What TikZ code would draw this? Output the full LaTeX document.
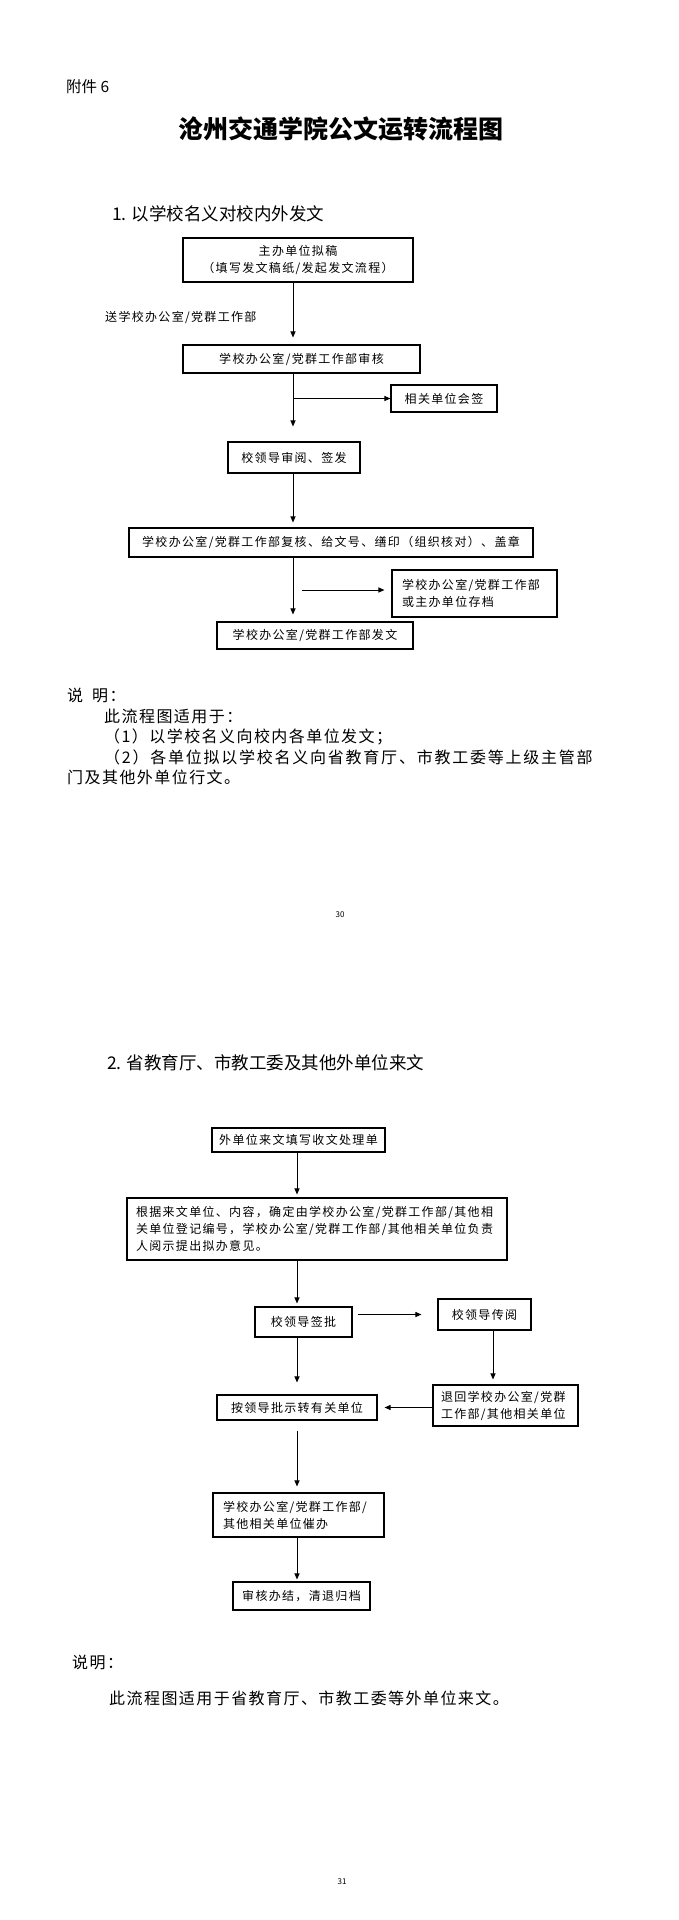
\documentclass[tikz,border=0pt]{standalone}
\usepackage{fontspec}
\setmainfont{Noto Sans CJK SC}
\newfontfamily\boxfnt[LetterSpace=11]{Noto Sans CJK SC}
\newfontfamily\txtfnt[LetterSpace=9]{Noto Sans CJK SC}
\usetikzlibrary{arrows.meta,calc}
\tikzset{
  bx/.style={draw, line width=1.1pt, inner sep=0pt, font=\boxfnt\fontsize{12}{17}\selectfont},
  bxl/.style={bx, align=left},
  plain/.style={inner sep=0pt, anchor=west},
  expl/.style={plain, font=\txtfnt\fontsize{16}{20}\selectfont},
  head/.style={plain, font=\fontsize{17.5}{20}\selectfont},
  pnum/.style={inner sep=0pt, font=\fontsize{8}{9}\selectfont},
  arr/.style={-{Triangle[length=6pt,width=5pt]}, line width=1pt},
}
\begin{document}
\begin{tikzpicture}[x=1pt,y=-1pt]
\fill[white] (0,0) rectangle (679,1920);
\useasboundingbox (0,0) rectangle (679,1920);

% ---------- page 1 ----------
\node[plain, font=\fontsize{15.5}{17}\selectfont] (fj) at (66,87) {附件 6};
\node[plain, font=\bfseries\fontsize{25}{28}\selectfont] (title) at (178,129) {沧州交通学院公文运转流程图};
\node[head] (h1) at (112,214) {1. 以学校名义对校内外发文};

\coordinate (c1) at (293,0);
\node[bx, align=center, minimum width=230pt, minimum height=44pt] (b1) at (298,260) {主办单位拟稿\\（填写发文稿纸/发起发文流程）};
\node[plain, font=\boxfnt\fontsize{12}{17}\selectfont] (lbl) at (105,317) {送学校办公室/党群工作部};
\node[bx, minimum width=237pt, minimum height=28pt] (b2) at (301.5,359) {学校办公室/党群工作部审核};
\node[bx, minimum width=106pt, minimum height=27pt] (s1) at (444,398.5) {相关单位会签};
\node[bx, minimum width=132pt, minimum height=31pt] (b3) at (294,457.5) {校领导审阅、签发};
\node[bx, minimum width=404pt, minimum height=29pt] (b4) at (331,542.5) {学校办公室/党群工作部复核、给文号、缮印（组织核对）、盖章};
\node[bxl, inner xsep=10pt, text width=145pt, minimum height=47pt] (s2) at (474.5,593.5) {学校办公室/党群工作部\\或主办单位存档};
\node[bx, minimum width=196pt, minimum height=27pt] (b6) at (315,635.5) {学校办公室/党群工作部发文};
\coordinate (s2a) at (302,590);

\draw[arr] (b1.south -| c1) -- ([yshift=7pt]b2.north -| c1);
\draw[arr] (b2.south -| c1) -- ([yshift=15pt]b3.north -| c1);
\draw[arr] (c1 |- s1) -- (s1.west);
\draw[arr] (b3.south -| c1) -- ([yshift=5pt]b4.north -| c1);
\draw[arr] (b4.south -| c1) -- ([yshift=7pt]b6.north -| c1);
\draw[arr, shorten >=7pt] (s2a) -- (s2a -| s2.west);

\node[expl] (e1) at (67,695) {说\hspace{9pt}明：};
\node[expl] (e2) at (104,716) {此流程图适用于：};
\node[expl] (e3) at (104,737) {（1）以学校名义向校内各单位发文；};
\node[expl, font=\txtfnt\addfontfeatures{LetterSpace=11}\fontsize{16}{20}\selectfont] (e4) at (104,757) {（2）各单位拟以学校名义向省教育厅、市教工委等上级主管部};
\node[expl] (e5) at (67,777) {门及其他外单位行文。};
\node[pnum] (p30) at (340,915) {30};

% ---------- page 2 ----------
\node[head] (h2) at (107,1063) {2. 省教育厅、市教工委及其他外单位来文};
\coordinate (c2) at (297,0);
\coordinate (c3) at (493,0);
\node[bx, minimum width=173pt, minimum height=24pt] (A) at (298.5,1140) {外单位来文填写收文处理单};
\node[bxl, inner xsep=9pt, text width=362pt, minimum height=62pt] (B) at (317,1229) {根据来文单位、内容，确定由学校办公室/党群工作部/其他相\\关单位登记编号，学校办公室/党群工作部/其他相关单位负责\\人阅示提出拟办意见。};
\node[bx, minimum width=97pt, minimum height=30pt] (C) at (303.5,1322) {校领导签批};
\node[bx, minimum width=93pt, minimum height=31pt] (D) at (484.5,1314.5) {校领导传阅};
\node[bxl, inner xsep=8pt, text width=129pt, minimum height=41pt] (E) at (505.5,1405.5) {退回学校办公室/党群\\工作部/其他相关单位};
\node[bx, minimum width=160pt, minimum height=25pt] (F) at (297,1407.5) {按领导批示转有关单位};
\node[bxl, inner xsep=10pt, text width=151pt, minimum height=44pt] (G) at (298.5,1515) {学校办公室/党群工作部/\\其他相关单位催办};
\node[bx, minimum width=137pt, minimum height=28pt] (H) at (301.5,1596) {审核办结，清退归档};

\draw[arr] (A.south -| c2) -- ([yshift=3pt]B.north -| c2);
\draw[arr] (B.south -| c2) -- ([yshift=3pt]C.north -| c2);
\draw[arr, shorten <=5pt, shorten >=16pt] (C.east |- D) -- (D.west);
\draw[arr] (D.south -| c3) -- ([yshift=5pt]E.north -| c3);
\draw[arr] (C.south -| c2) -- ([yshift=12pt]F.north -| c2);
\draw[arr, shorten >=7pt] (E.west |- F) -- (F.east);
\draw[arr, shorten <=10pt, shorten >=6pt] (F.south -| c2) -- (G.north -| c2);
\draw[arr, shorten >=2pt] (G.south -| c2) -- (H.north -| c2);

\node[expl] (f1) at (72,1662) {说明：};
\node[expl] (f2) at (109,1698) {此流程图适用于省教育厅、市教工委等外单位来文。};
\node[pnum] (p31) at (342,1882) {31};
\end{tikzpicture}
\end{document}
